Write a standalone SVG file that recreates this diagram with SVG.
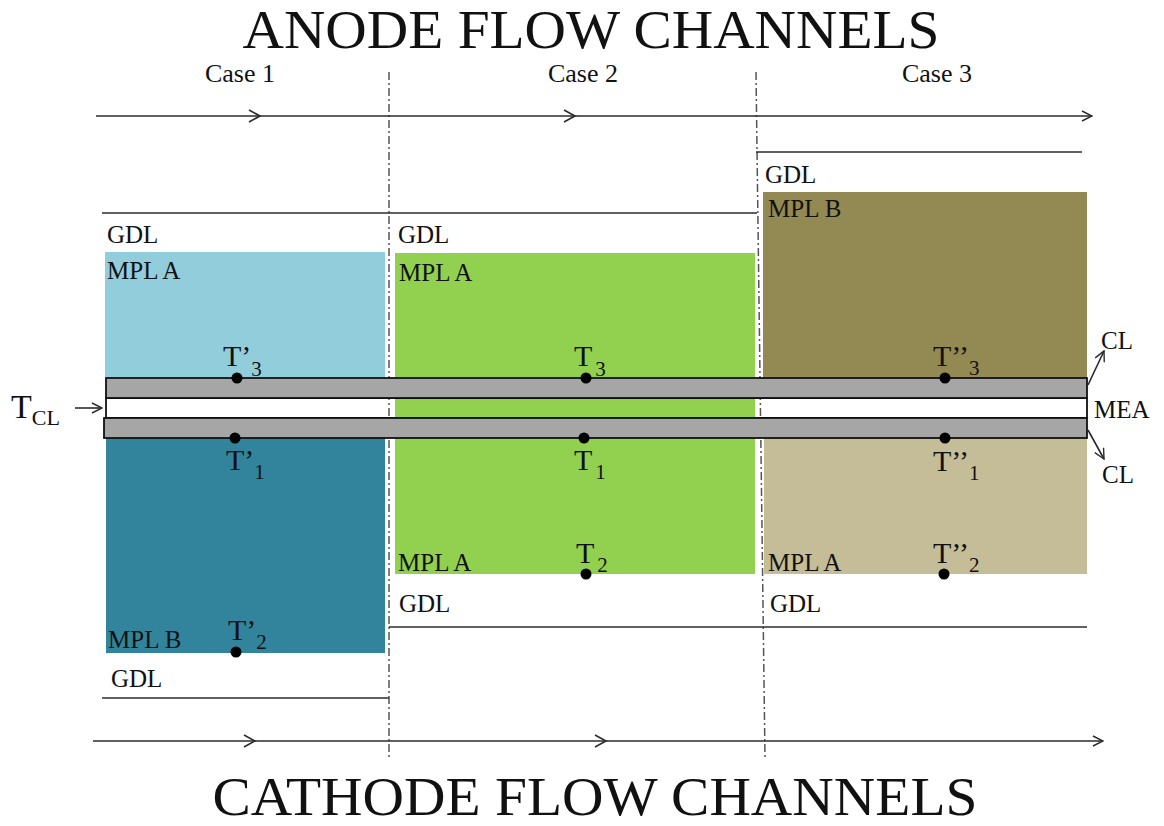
<svg xmlns="http://www.w3.org/2000/svg" width="1164" height="826" viewBox="0 0 1164 826" font-family="'Liberation Serif', 'Times New Roman', serif">
  <defs>
    <style>
      text, tspan { font-family: "Liberation Serif", "Times New Roman", serif; fill: #111; }
      .title { font-size: 54px; text-anchor: middle; }
      .case { font-size: 26px; text-anchor: middle; }
      .lbl { font-size: 25px; }
      .t { font-size: 30px; }
      .sub { font-size: 21px; }
      .line { stroke: #2b2b2b; stroke-width: 1.6; fill: none; }
      .chev { stroke: #2b2b2b; stroke-width: 1.6; fill: none; }
      .divider { stroke: #555; stroke-width: 1.5; stroke-dasharray: 8 3 2 3; fill: none; }
      .band { fill: #a6a6a6; stroke: #111; stroke-width: 1.8; }
      .core { fill: none; stroke: #111; stroke-width: 1.8; }
      .dot { fill: #000; }
    </style>
    <marker id="open" viewBox="0 0 12 12" refX="11" refY="6" markerWidth="12" markerHeight="12" markerUnits="userSpaceOnUse" orient="auto">
      <path d="M1,1 L11,6 L1,11" fill="none" stroke="#2b2b2b" stroke-width="1.4"/>
    </marker>
  </defs>

  <!-- titles -->
  <text class="title" x="591" y="48" textLength="697" lengthAdjust="spacingAndGlyphs">ANODE FLOW CHANNELS</text>
  <text class="title" x="595" y="815" textLength="765" lengthAdjust="spacingAndGlyphs">CATHODE FLOW CHANNELS</text>

  <text class="case" x="240" y="82">Case 1</text>
  <text class="case" x="583" y="82">Case 2</text>
  <text class="case" x="937" y="82">Case 3</text>

  <!-- layer fills -->
  <g id="case1">
    <rect x="105" y="252" width="280" height="126" fill="#92cddc"/>
    <rect x="106" y="438" width="279" height="215" fill="#31849b"/>
    <text class="lbl" x="107" y="243">GDL</text>
    <text class="lbl" x="107" y="279">MPL A</text>
    <text class="lbl" x="108" y="648">MPL B</text>
    <text class="lbl" x="111" y="687">GDL</text>
  </g>
  <g id="case2">
    <rect x="395" y="253" width="360" height="321" fill="#92d050"/>
    <text class="lbl" x="398" y="243">GDL</text>
    <text class="lbl" x="399" y="281">MPL A</text>
    <text class="lbl" x="398" y="571">MPL A</text>
    <text class="lbl" x="399" y="612">GDL</text>
  </g>
  <g id="case3">
    <rect x="763" y="192" width="324" height="186" fill="#938953"/>
    <rect x="764" y="438" width="323" height="136" fill="#c4bd97"/>
    <text class="lbl" x="765" y="183">GDL</text>
    <text class="lbl" x="768" y="217">MPL B</text>
    <text class="lbl" x="768" y="571">MPL A</text>
    <text class="lbl" x="770" y="612">GDL</text>
  </g>

  <!-- case dividers -->
  <g id="dividers">
    <line class="divider" x1="389" y1="72" x2="389" y2="757"/>
    <line class="divider" x1="756" y1="72" x2="765" y2="757"/>
  </g>

  <!-- MEA: two catalyst layers around the membrane -->
  <g id="mea">
    <rect class="core" x="106" y="398" width="981" height="20"/>
    <rect class="band" x="106" y="378" width="981" height="20"/>
    <rect class="band" x="104" y="418" width="983" height="20"/>
  </g>

  <!-- connectors -->
  <g id="connectors">
    <!-- anode flow -->
    <line class="line" x1="96" y1="116" x2="1092" y2="116" marker-end="url(#open)"/>
    <path class="chev" d="M249,110 L260,116 L249,122"/>
    <path class="chev" d="M564,110 L575,116 L564,122"/>
    <!-- cathode flow -->
    <line class="line" x1="93" y1="741" x2="1103" y2="741" marker-end="url(#open)"/>
    <path class="chev" d="M244,735 L255,741 L244,747"/>
    <path class="chev" d="M595,735 L606,741 L595,747"/>
    <!-- GDL boundaries -->
    <line class="line" x1="102" y1="213" x2="757" y2="213"/>
    <line class="line" x1="756" y1="152" x2="1082" y2="152"/>
    <line class="line" x1="389" y1="627" x2="1087" y2="627"/>
    <line class="line" x1="102" y1="698" x2="389" y2="698"/>
    <!-- T_CL pointer and CL pointers -->
    <line class="line" x1="75" y1="408" x2="102" y2="408" marker-end="url(#open)"/>
    <line class="line" x1="1088" y1="385" x2="1104" y2="351" marker-end="url(#open)"/>
    <line class="line" x1="1088" y1="430" x2="1104" y2="459" marker-end="url(#open)"/>
  </g>

  <!-- temperature probes -->
  <g id="probes">
    <circle class="dot" cx="237" cy="378" r="5.5"/>
    <circle class="dot" cx="235" cy="438" r="5.5"/>
    <circle class="dot" cx="236" cy="652" r="5.5"/>
    <circle class="dot" cx="586" cy="378" r="5.5"/>
    <circle class="dot" cx="584" cy="438" r="5.5"/>
    <circle class="dot" cx="586" cy="574" r="5.5"/>
    <circle class="dot" cx="945" cy="378" r="5.5"/>
    <circle class="dot" cx="945" cy="438" r="5.5"/>
    <circle class="dot" cx="944" cy="574" r="5.5"/>

    <text class="t" x="223" y="366">T’<tspan class="sub" dy="10">3</tspan></text>
    <text class="t" x="226" y="470">T’<tspan class="sub" dy="9">1</tspan></text>
    <text class="t" x="228" y="640">T’<tspan class="sub" dy="9">2</tspan></text>
    <text class="t" x="574" y="366">T<tspan class="sub" dy="10" dx="3">3</tspan></text>
    <text class="t" x="574" y="470">T<tspan class="sub" dy="9" dx="3">1</tspan></text>
    <text class="t" x="576" y="563">T<tspan class="sub" dy="9" dx="3">2</tspan></text>
    <text class="t" x="933" y="366">T’’<tspan class="sub" dy="9">3</tspan></text>
    <text class="t" x="933" y="471">T’’<tspan class="sub" dy="9">1</tspan></text>
    <text class="t" x="933" y="563">T’’<tspan class="sub" dy="9">2</tspan></text>
  </g>

  <!-- side labels -->
  <g id="side-labels">
    <text x="11" y="418" style="font-size:34px">T<tspan dy="7" style="font-size:22px">CL</tspan></text>
    <text class="lbl" x="1101" y="349">CL</text>
    <text class="lbl" x="1094" y="418">MEA</text>
    <text class="lbl" x="1102" y="483">CL</text>
  </g>
</svg>
